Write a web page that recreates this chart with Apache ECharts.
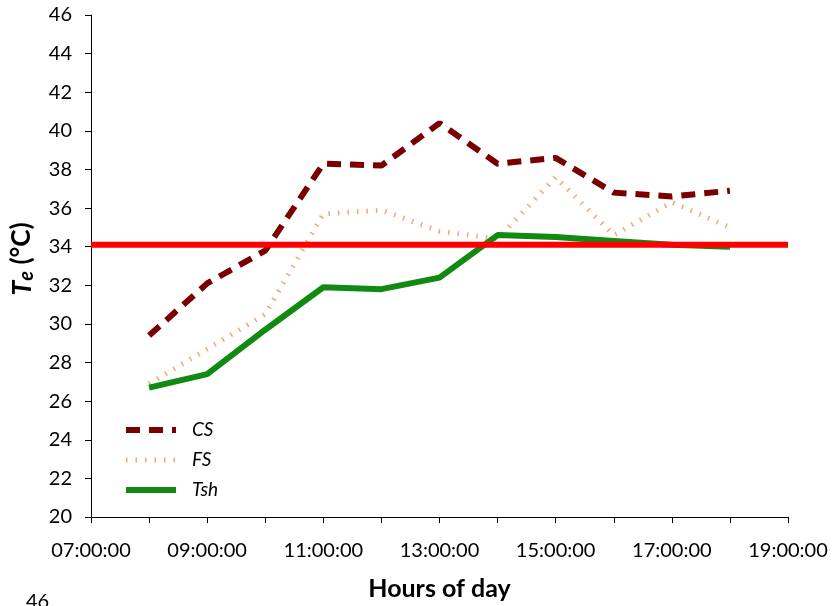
<!DOCTYPE html>
<html>
<head>
<meta charset="utf-8">
<script src="https://cdn.jsdelivr.net/npm/echarts@6/dist/echarts.min.js"></script>
<style>
  html, body { margin: 0; padding: 0; background: #fff; }
  #chart { width: 839px; height: 606px; }
</style>
</head>
<body>
<div id="chart"></div>
<script>
// hours of day (decimal), one reading per hour
const hours = [8, 9, 10, 11, 12, 13, 14, 15, 16, 17, 18];
const cs = [29.4, 32.1, 33.8, 38.3, 38.2, 40.4, 38.3, 38.6, 36.8, 36.6, 36.9];
const fs = [26.9, 28.7, 30.5, 35.7, 35.9, 34.8, 34.4, 37.6, 34.6, 36.3, 35.0];
const tsh = [26.7, 27.4, 29.7, 31.9, 31.8, 32.4, 34.6, 34.5, 34.3, 34.1, 34.0];
const thresholdX = [7, 19];
const thresholdY = 34.1;

const pairs = (ys) => hours.map((h, i) => [h, ys[i]]);
const font = "Lato, 'Open Sans', sans-serif";

const csStyle = { color: "#7a0000", width: 6, type: [14, 9] };
const fsStyle = { color: "#f2a874", width: 5, type: [1.5, 8] };
const tshStyle = { color: "#118a11", width: 6 };

const chart = echarts.init(document.getElementById("chart"), null, { renderer: "canvas" });

chart.setOption({
  backgroundColor: "#fff",
  animation: false,
  grid: { left: 91, right: 51, top: 15, bottom: 88 },
  legend: {
    orient: "vertical",
    left: 118,
    top: 415,
    itemWidth: 50,
    itemHeight: 14,
    itemGap: 10,
    itemStyle: { opacity: 0 },
    data: [
      { name: "CS", lineStyle: csStyle },
      { name: "FS", lineStyle: fsStyle },
      { name: "Tsh", lineStyle: tshStyle },
    ],
    textStyle: {
      fontFamily: font,
      fontStyle: "italic",
      fontSize: 19,
      lineHeight: 20,
      color: "#000",
      padding: [0, 0, 0, 11],
    },
  },
  xAxis: {
    type: "value",
    min: 7,
    max: 19,
    interval: 1,
    name: "Hours of day",
    nameLocation: "middle",
    nameGap: 59,
    nameTextStyle: { fontFamily: font, fontWeight: "bold", fontSize: 25, color: "#000" },
    axisLine: { lineStyle: { color: "#000", width: 1 } },
    axisTick: { inside: false, length: 6, lineStyle: { color: "#000" } },
    splitLine: { show: false },
    axisLabel: {
      margin: 24,
      fontFamily: font,
      fontSize: 20,
      color: "#000",
      formatter: (v) => ((v - 7) % 2 === 0 ? String(v).padStart(2, "0") + ":00:00" : ""),
    },
  },
  yAxis: {
    type: "value",
    min: 20,
    max: 46,
    interval: 2,
    name: "{t|T}{e|e}{u| (°C)}",
    nameLocation: "middle",
    nameRotate: 90,
    nameGap: 54,
    nameTextStyle: {
      rich: {
        t: { fontFamily: font, fontWeight: "bold", fontStyle: "italic", fontSize: 27, color: "#000", padding: [0, 0, 0, 14] },
        e: { fontFamily: font, fontWeight: "bold", fontStyle: "italic", fontSize: 20, color: "#000", padding: [10, 0, 0, 0] },
        u: { fontFamily: font, fontWeight: "bold", fontSize: 26, color: "#000" },
      },
    },
    axisLine: { show: true, lineStyle: { color: "#000", width: 1 } },
    axisTick: { show: true, inside: false, length: 6, lineStyle: { color: "#000" } },
    splitLine: { show: false },
    axisLabel: { margin: 19, fontFamily: font, fontSize: 20, color: "#000" },
  },
  series: [
    {
      name: "CS",
      type: "line",
      data: pairs(cs),
      symbol: "none",
      lineStyle: csStyle,
      itemStyle: { color: csStyle.color },
    },
    {
      name: "FS",
      type: "line",
      data: pairs(fs),
      symbol: "none",
      lineStyle: fsStyle,
      itemStyle: { color: fsStyle.color },
    },
    {
      name: "Tsh",
      type: "line",
      data: pairs(tsh),
      symbol: "none",
      lineStyle: tshStyle,
      itemStyle: { color: tshStyle.color },
    },
    {
      name: "threshold",
      type: "line",
      data: thresholdX.map((x) => [x, thresholdY]),
      symbol: "none",
      silent: true,
      lineStyle: { color: "#ff0000", width: 6 },
      itemStyle: { color: "#ff0000" },
    },
  ],
  graphic: [
    {
      type: "text",
      left: 26,
      top: 592,
      style: { text: "46", fontFamily: font, fontSize: 20, fill: "#000" },
    },
  ],
});

window.addEventListener("resize", () => chart.resize());
</script>
</body>
</html>
